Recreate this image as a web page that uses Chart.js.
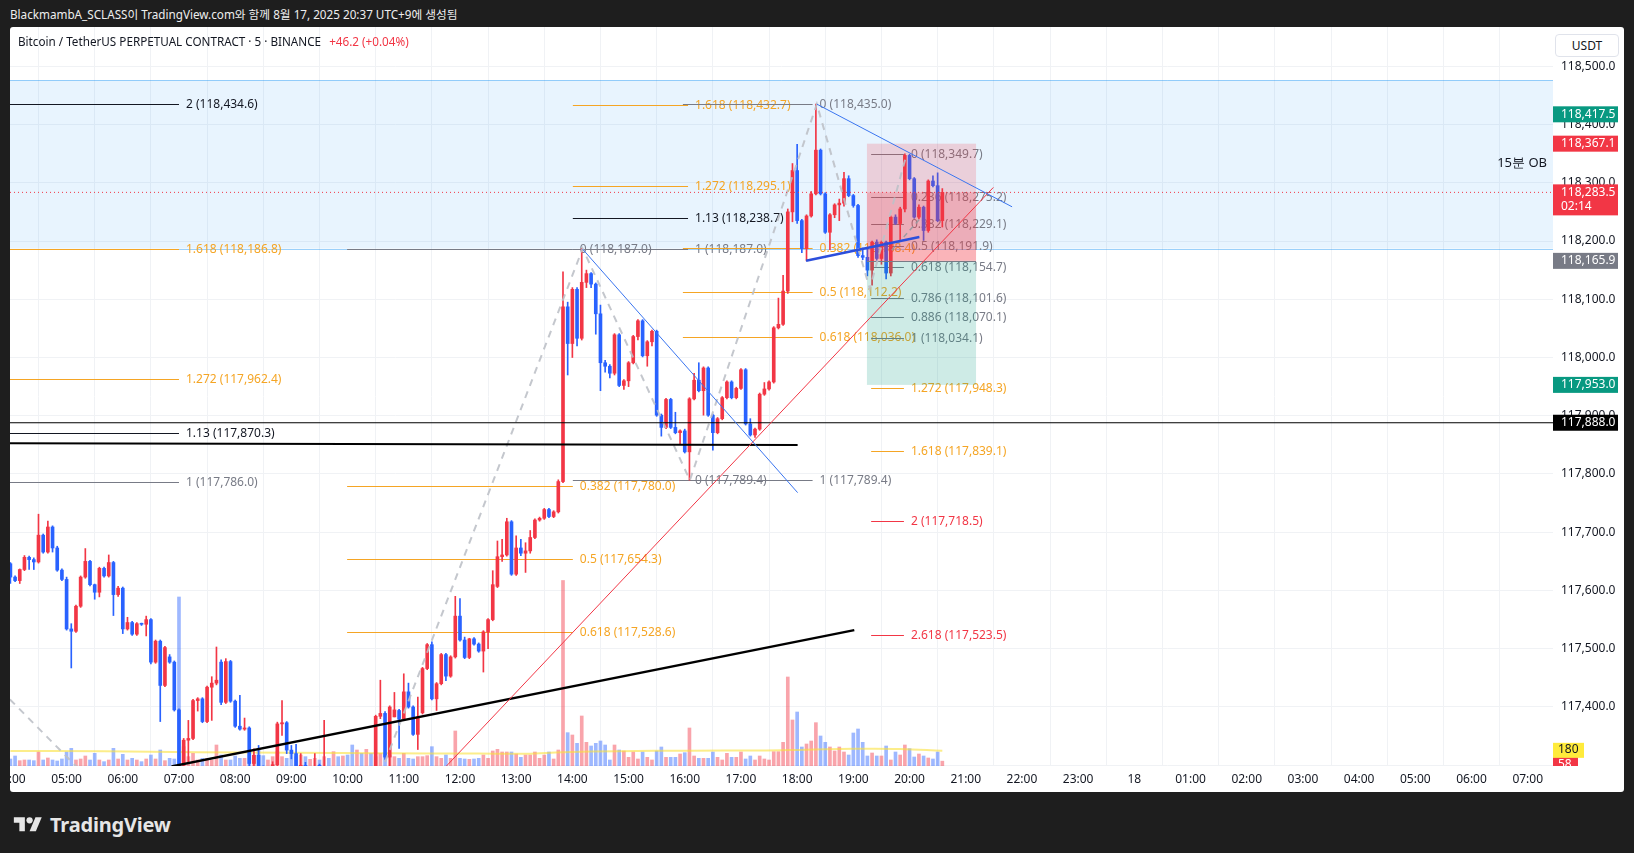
<!DOCTYPE html>
<html><head><meta charset="utf-8">
<script src="https://cdn.jsdelivr.net/npm/chart.js@4.4.1/dist/chart.umd.min.js"></script>
<style>
html,body{margin:0;padding:0;background:#1e1e1e;width:1634px;height:853px;overflow:hidden;font-family:'Noto Sans','Noto Sans CJK KR',sans-serif;}
#title{position:absolute;left:10px;top:5px;color:#eeeeee;font-size:11.7px;line-height:18px;font-family:'Noto Sans','Noto Sans CJK KR',sans-serif;}
#panel{position:absolute;left:10px;top:27px;width:1614px;height:765px;background:#fff;border-radius:3px;overflow:hidden}
#c{position:absolute;left:0;top:0;}
#legend{position:absolute;left:8px;top:6px;font-size:11.7px;color:#131722;white-space:nowrap}
#legend .chg{color:#f23645;margin-left:5px}
#usdt{position:absolute;left:1545px;top:7px;width:62px;height:21px;border:1px solid #e0e3eb;border-radius:4px;background:#fff;font-size:12px;line-height:21px;text-align:center;color:#131722}
#footer{position:absolute;left:12px;top:811px;display:flex;align-items:center;color:#e6e6e6;font-size:20px;font-weight:700;letter-spacing:-0.2px;font-family:'Noto Sans',sans-serif}
#footer svg{margin-right:6px}
</style></head>
<body>
<div id="title">BlackmambA_SCLASS이 TradingView.com와 함께 8월 17, 2025 20:37 UTC+9에 생성됨</div>
<div id="panel">
<canvas id="c" width="1614" height="765"></canvas>
<div id="legend">Bitcoin / TetherUS PERPETUAL CONTRACT · 5 · BINANCE <span class="chg">+46.2 (+0.04%)</span></div>
<div id="usdt">USDT</div>
</div>
<div id="footer"><svg width="32" height="22" viewBox="0 0 36 28"><path fill="#e6e6e6" d="M14 22H7V11H0V4h14v18z"/><circle fill="#e6e6e6" cx="20" cy="8" r="4"/><path fill="#e6e6e6" d="M28 22h-8l7.5-18h8L28 22z"/></svg>TradingView</div>
<script>
// ---------- data ----------
const timeTickIdx = [0,12,24,36,48,60,72,84,96,108,120,132,144,156,168,180,192,204,216,228,240,252,264,276,288,300,312,324];
const timeTickLabels = ['04:00','05:00','06:00','07:00','08:00','09:00','10:00','11:00','12:00','13:00','14:00','15:00','16:00','17:00','18:00','19:00','20:00','21:00','22:00','23:00','18','01:00','02:00','03:00','04:00','05:00','06:00','07:00'];
const priceTicks = [117300,117400,117500,117600,117700,117800,117900,118000,118100,118200,118300,118400,118500];

const opens = [
117646,117623,117617,117636,117657,117653,117649,117695,117666,117709,
117673,117635,117619,117534,117530,117573,117623,117650,117610,117597,
117638,117625,117648,117593,117604,117534,117545,117525,117543,117542,
117550,117477,117513,117437,117486,117477,117395,117300,117343,117346,
117411,117414,117375,117434,117441,117477,117408,117478,117410,117367,
117362,117364,117303,117317,117297,117282,117290,117301,117371,117373,
117326,117320,117297,117300,117282,117286,117300,117288,117290,117270,
117280,117262,117275,117260,117250,117278,117256,117280,117272,117384,
117389,117314,117383,117394,117380,117426,117400,117353,117390,117466,
117507,117414,117440,117490,117453,117486,117556,117515,117485,117517,
117508,117496,117529,117550,117607,117658,117661,117718,117628,117673,
117664,117668,117691,117721,117724,117739,117727,117735,117787,118087,
118024,118117,118033,118129,118144,118126,118075,117991,117985,117973,
118039,117952,117960,117991,118036,118063,118003,118027,118045,117901,
117880,117928,117880,117871,117874,117838,117929,117961,117943,117982,
117901,117871,117895,117931,117958,117931,117947,117979,117886,117867,
117877,117937,117946,117958,118051,118057,118114,118250,118321,118235,
118187,118243,118281,118356,118281,118215,118245,118262,118265,118307,
118278,118261,118175,118172,118150,118198,118170,118198,118145,118241,
118230,118255,118347,118307,118241,118258,118218,118303,118295,118235];
const highs = [
117648,117625,117637,117660,117659,117656,117731,117697,117719,117711,
117676,117637,117623,117543,117575,117625,117672,117652,117611,117640,
117640,117661,117650,117607,117606,117554,117547,117545,117544,117556,
117552,117515,117515,117504,117490,117479,117397,117346,117377,117413,
117416,117416,117436,117452,117503,117481,117483,117480,117412,117420,
117381,117366,117328,117334,117299,117294,117306,117374,117411,117375,
117334,117336,117320,117305,117290,117320,117302,117377,117293,117285,
117290,117280,117288,117292,117285,117290,117288,117292,117386,117446,
117392,117402,117425,117396,117457,117441,117402,117417,117468,117509,
117512,117442,117492,117492,117488,117590,117586,117520,117518,117519,
117510,117531,117552,117634,117685,117688,117724,117720,117694,117688,
117682,117703,117723,117726,117741,117741,117737,117790,118147,118095,
118120,118120,118187,118150,118146,118128,118090,117995,117988,118041,
118041,117962,117993,118038,118065,118065,118029,118047,118047,117903,
117930,117930,117906,117876,117877,117931,117973,117991,117984,117984,
117903,117897,117933,117960,117960,117949,117981,117981,117895,117879,
117939,117957,117960,118053,118102,118141,118255,118333,118366,118237,
118245,118285,118435,118358,118283,118247,118264,118272,118318,118312,
118280,118263,118188,118187,118200,118202,118200,118200,118243,118245,
118258,118349.7,118349,118309,118262,118260,118305,118312,118317,118290];
const lows = [
117612,117615,117612,117634,117636,117636,117647,117664,117664,117666,
117633,117617,117532,117467,117528,117571,117621,117608,117585,117589,
117623,117623,117557,117590,117526,117532,117523,117523,117540,117522,
117474,117475,117375,117435,117475,117393,117285,117290,117305,117344,
117393,117373,117373,117377,117438,117404,117406,117408,117365,117360,
117360,117296,117298,117295,117270,117265,117285,117299,117351,117320,
117311,117290,117285,117275,117270,117280,117275,117280,117260,117255,
117258,117245,117255,117240,117235,117250,117245,117258,117268,117380,
117310,117297,117383,117329,117378,117398,117351,117327,117388,117464,
117412,117394,117438,117445,117451,117484,117513,117483,117483,117506,
117494,117460,117500,117548,117605,117650,117659,117626,117626,117660,
117631,117664,117689,117719,117722,117725,117725,117733,117785,117970,
118000,118020,118030,118120,118120,118040,117943,117975,117965,117970,
117950,117945,117950,117989,118030,118001,117985,118020,117899,117865,
117878,117878,117869,117851,117836,117789.4,117927,117941,117901,117899,
117841,117869,117893,117929,117929,117929,117945,117884,117865,117863,
117875,117935,117944,117956,118049,118055,118110,118233,118230,118180,
118166,118241,118279,118279,118213,118185,118240,118235,118260,118276,
118258,118172,118168,118140,118124,118165,118160,118135,118140,118228,
118200,118250,118305,118239,118238,118201,118215,118293,118233,118224];
const closes = [
117623,117617,117636,117657,117653,117649,117695,117666,117709,117673,
117635,117619,117534,117530,117573,117623,117650,117610,117597,117638,
117625,117648,117593,117604,117534,117545,117525,117543,117542,117550,
117477,117513,117437,117502,117477,117395,117300,117343,117346,117411,
117414,117375,117434,117441,117446,117408,117478,117410,117367,117362,
117364,117303,117317,117297,117282,117290,117301,117371,117373,117326,
117320,117297,117300,117282,117286,117292,117288,117290,117270,117280,
117262,117275,117260,117250,117278,117256,117280,117272,117384,117389,
117314,117400,117395,117379,117426,117400,117353,117383,117466,117507,
117414,117440,117490,117453,117486,117556,117515,117485,117517,117508,
117496,117529,117550,117610,117658,117661,117718,117628,117673,117664,
117668,117691,117721,117724,117739,117727,117735,117787,118087,118024,
118117,118033,118129,118144,118126,118075,117991,117985,117973,118039,
117952,117960,117991,118036,118063,118003,118027,118045,117901,117880,
117928,117880,117871,117874,117838,117929,117961,117943,117982,117901,
117871,117895,117931,117958,117931,117947,117979,117886,117867,117877,
117937,117946,117958,118051,118057,118114,118250,118321,118235,118187,
118243,118281,118356,118281,118215,118245,118262,118265,118307,118278,
118261,118175,118172,118150,118198,118170,118198,118145,118241,118230,
118255,118347,118307,118241,118258,118218,118303,118295,118235,118283.5];
const volumes = [
84,120,64,72,72,64,168,72,96,72, 60,84,168,212,72,84,120,72,152,72,
52,72,212,84,140,72,92,72,52,84, 132,84,192,64,92,84,2028,232,112,152,
72,92,92,72,252,132,72,72,120,92, 92,192,132,192,124,72,112,172,112,92,
152,112,132,112,80,92,72,112,92,172, 112,120,132,252,192,152,200,152,112,152,
152,132,112,92,152,92,84,112,112,124, 232,112,92,132,92,420,92,84,80,84,
92,132,92,180,200,168,168,168,144,104, 132,132,168,92,132,168,84,192,2226,400,
372,272,600,284,240,272,300,252,72,252, 192,180,104,168,84,168,104,72,180,228,
104,104,104,144,160,456,120,92,92,92, 168,104,72,152,104,104,168,84,120,72,
120,84,72,172,172,284,1068,552,648,228, 264,300,520,360,284,228,180,228,168,132,
396,444,284,120,156,120,120,240,72,168, 132,252,208,108,144,120,96,84,168,58];
const volMaIdx = [0,20,40,60,80,100,110,118,130,145,160,170,180,190,199];
const volMaVal = [180,176,165,160,152,150,148,165,178,184,186,196,206,204,182];

// drawings (bar index, price)
const obZone = [118187, 118476];
const fibLLevels = [2,1.618,1.272,1.13,1];
const fibLPrices = [118434.6,118186.8,117962.4,117870.3,117786.0];
const fibALevels = [0,0.382,0.5,0.618];
const fibAPrices = [118187.0,117780.0,117654.3,117528.6];
const fibBLevels = [1.618,1.272,1.13,1,0];
const fibBPrices = [118432.7,118295.1,118238.7,118187.0,117789.4];
const fibCLevels = [0,0.382,0.5,0.618,1];
const fibCPrices = [118435.0,118188.4,118112.2,118036.0,117789.4];
const fibDLevels = [0,0.236,0.382,0.5,0.618,0.786,0.886,1,1.272,1.618,2,2.618];
const fibDPrices = [118349.7,118275.2,118229.1,118191.9,118154.7,118101.6,118070.1,118034.1,117948.3,117839.1,117718.5,117523.5];
const positionPrices = {stop:118367.1, entry:118165.9, target:117953.0, last:118283.5};
const positionSpan = [182.9, 206.2];
const hLinePrice = 117888.0;
const blackTrend = [[34.4,117298],[180.2,117532]];
const blackFlat = [[-0.1,117853],[168.1,117850]];
const redTrend = [[92.8,117296],[209.9,118292]];
const blueDown = [[122.2,118186],[168.1,117768]];
const blueTop = [[172.2,118435],[213.9,118258.7]];
const blueBottom = [[169.9,118166],[194.1,118207]];
const zigA = [[-0.1,117413],[36,117120]];
const zigB = [[78,117264],[122.2,118187],[145.1,117789.4],[172.2,118435],[183.5,118118],[191.4,118349.7]];
const zigC = [[188.2,118184],[194.2,118238]];
const axisMarkPrices = [118417.5,118367.1,118283.5,118165.9,117953.0,117888.0];
const axisMarkTexts = ['118,417.5','118,367.1','118,283.5','118,165.9','117,953.0','117,888.0'];
const countdownText = '02:14';
const volLabelTexts = ['180','58'];

// ---------- styles ----------
const xMin = -0.085, xMax = 329.4, yMin = 117298.7, yMax = 118567.4, volMax = 8868;
const COL = {orange:'#f5a524', gray:'#787b86', black:'#131722', red:'#f23645', green:'#089981'};
const UP = '#f23645', DN = '#2962ff';
const FONT = '"Noto Sans","Liberation Sans",sans-serif';
const fibDefs = [
  {x0:xMin, x1:36.0, levels:fibLLevels, prices:fibLPrices, col:{2:'black',1.618:'orange',1.272:'orange',1.13:'black',1:'gray'}},
  {x0:71.9, x1:120.1, levels:fibALevels, prices:fibAPrices, col:{0:'gray',0.382:'orange',0.5:'orange',0.618:'orange'}},
  {x0:120.1, x1:144.7, levels:fibBLevels, prices:fibBPrices, col:{1.618:'orange',1.272:'orange',1.13:'black',1:'gray',0:'gray'}},
  {x0:143.6, x1:171.3, levels:fibCLevels, prices:fibCPrices, col:{0:'gray',0.382:'orange',0.5:'orange',0.618:'orange',1:'gray'}},
  {x0:183.8, x1:190.8, levels:fibDLevels, prices:fibDPrices, col:{1.272:'orange',1.618:'orange',2:'red',2.618:'red'}}
];
const fmt = v => v.toLocaleString('en-US',{minimumFractionDigits:1,maximumFractionDigits:1});
const isUp = i => closes[i] >= opens[i];
const pts = arr => arr.map(p => ({x:p[0], y:p[1]}));

const overlay = {
  id:'overlay',
  beforeDatasetsDraw(chart){
    const {ctx, chartArea:a, scales:{x,y}} = chart;
    ctx.save();
    ctx.beginPath(); ctx.rect(a.left,a.top,a.width,a.height); ctx.clip();
    const zt = y.getPixelForValue(obZone[1]), zb = y.getPixelForValue(obZone[0]);
    ctx.fillStyle = 'rgba(33,150,243,0.10)';
    ctx.fillRect(a.left, zt, a.width, zb-zt);
    ctx.strokeStyle = 'rgba(33,150,243,0.45)'; ctx.lineWidth = 1;
    [zt,zb].forEach(v=>{ctx.beginPath();ctx.moveTo(a.left,Math.round(v)+0.5);ctx.lineTo(a.right,Math.round(v)+0.5);ctx.stroke();});
    ctx.font = '13px '+FONT; ctx.fillStyle = '#131722'; ctx.textAlign='right'; ctx.textBaseline='middle';
    ctx.fillText('15분 OB', a.right-6, y.getPixelForValue(118334));
    ctx.font = '12px '+FONT; ctx.textAlign='left';
    fibDefs.forEach(f=>{
      const px0 = x.getPixelForValue(f.x0), px1 = x.getPixelForValue(f.x1);
      f.levels.forEach((lv,k)=>{
        const c = COL[f.col[lv] || 'gray'];
        const py = Math.round(y.getPixelForValue(f.prices[k]))+0.5;
        ctx.strokeStyle = c; ctx.lineWidth = 1;
        ctx.beginPath(); ctx.moveTo(px0,py); ctx.lineTo(px1,py); ctx.stroke();
        ctx.fillStyle = c;
        ctx.fillText(lv+' ('+fmt(f.prices[k])+')', px1+7, py);
      });
    });
    ctx.restore();
  },
  afterDatasetDraw(chart,args){
    if(chart.data.datasets[args.index].id !== 'bodies') return;
    const {ctx, chartArea:a, scales:{x,y}} = chart;
    ctx.save();
    ctx.beginPath(); ctx.rect(a.left,a.top,a.width,a.height); ctx.clip();
    const x0 = x.getPixelForValue(positionSpan[0]), x1 = x.getPixelForValue(positionSpan[1]);
    const ys = y.getPixelForValue(positionPrices.stop), ye = y.getPixelForValue(positionPrices.entry);
    const yt = y.getPixelForValue(positionPrices.target), yl = y.getPixelForValue(positionPrices.last);
    ctx.fillStyle = 'rgba(242,54,69,0.20)'; ctx.fillRect(x0, ys, x1-x0, ye-ys);
    ctx.fillStyle = 'rgba(242,54,69,0.22)'; ctx.fillRect(x0, yl, x1-x0, ye-yl);
    ctx.fillStyle = 'rgba(8,153,129,0.20)'; ctx.fillRect(x0, ye, x1-x0, yt-ye);
    ctx.strokeStyle = '#787b86'; ctx.lineWidth=1;
    ctx.beginPath(); ctx.moveTo(x0,Math.round(ye)+0.5); ctx.lineTo(x1,Math.round(ye)+0.5); ctx.stroke();
    ctx.restore();
  },
  afterDraw(chart){
    const {ctx, chartArea:a, scales:{y, yv}} = chart;
    ctx.save();
    ctx.font = '12px '+FONT; ctx.textBaseline='middle'; ctx.textAlign='left';
    const bx = a.right, bw = 65, bh = 16;
    const kinds = ['#089981','#f23645','#f23645','#787b86','#089981','#000000'];
    axisMarkPrices.forEach((p,k)=>{
      const py = y.getPixelForValue(p);
      ctx.fillStyle = kinds[k];
      if(k===2){
        ctx.fillRect(bx, py-8, bw, 31);
        ctx.fillStyle='#fff'; ctx.fillText(axisMarkTexts[k], bx+8, py);
        ctx.fillText(countdownText, bx+8, py+14);
      } else {
        ctx.fillRect(bx, py-bh/2, bw, bh);
        ctx.fillStyle='#fff'; ctx.fillText(axisMarkTexts[k], bx+8, py);
      }
    });
    ctx.beginPath(); ctx.rect(a.right, a.top, 80, a.bottom-a.top); ctx.clip();
    const vy2 = yv.getPixelForValue(volumes[volumes.length-1]) + 3;
    ctx.fillStyle = '#f23645'; ctx.fillRect(bx, vy2-7, 25, 15);
    ctx.fillStyle = '#fff'; ctx.fillText(volLabelTexts[1], bx+5, vy2);
    const vy1 = yv.getPixelForValue(volMaVal[volMaVal.length-1]) - 1;
    ctx.fillStyle = '#ffeb3b'; ctx.fillRect(bx, vy1-7, 31, 15);
    ctx.fillStyle = '#131722'; ctx.fillText(volLabelTexts[0], bx+5, vy1);
    ctx.restore();
  }
};

const idx = opens.map((_,i)=>i);
const line = (id, data, color, width, dash, order) => ({type:'line', id, data:pts(data), borderColor:color, borderWidth:width, borderDash:dash||[], pointRadius:0, fill:false, yAxisID:'y', order, tension:0});

const datasets = [
  {type:'bar', id:'vol', yAxisID:'yv', data: idx.map(i=>({x:i, y:volumes[i]})),
   backgroundColor: idx.map(i=> isUp(i) ? 'rgba(242,54,69,0.45)' : 'rgba(41,98,255,0.45)'),
   barThickness:3, grouped:false, order:100},
  {type:'line', id:'vma', yAxisID:'yv', data: volMaIdx.map((v,k)=>({x:v, y:volMaVal[k]})),
   borderColor:'rgba(250,225,60,0.6)', borderWidth:2, pointRadius:0, tension:0.4, order:99},
  {type:'bar', id:'wicks', yAxisID:'y', data: idx.map(i=>({x:i, y:[lows[i], highs[i]]})),
   backgroundColor: idx.map(i=> isUp(i)?UP:DN), barThickness:1, grouped:false, order:98},
  {type:'bar', id:'bodies', yAxisID:'y', data: idx.map(i=>({x:i, y:[opens[i], closes[i]]})),
   backgroundColor: idx.map(i=> isUp(i)?UP:DN), barThickness:3, minBarLength:1, grouped:false, order:97},
  line('zigA', zigA, 'rgba(190,193,200,0.9)', 2, [7,6], 90),
  line('zigB', zigB, 'rgba(190,193,200,0.9)', 2, [7,6], 89),
  line('zigC', zigC, 'rgba(150,153,160,0.9)', 1.5, [5,4], 88),
  line('hline', [[xMin,hLinePrice],[xMax,hLinePrice]], '#000000', 1.2, [], 80),
  line('blackFlat', blackFlat, '#000000', 2, [], 79),
  line('blackTrend', blackTrend, '#000000', 2.5, [], 78),
  line('redTrend', redTrend, '#f23645', 1, [], 77),
  line('blueDown', blueDown, '#3a75f0', 1, [], 76),
  line('blueTop', blueTop, '#3a75f0', 1, [], 75),
  line('blueBottom', blueBottom, '#2c4fdc', 2.5, [], 74),
  line('priceLine', [[xMin,positionPrices.last],[xMax,positionPrices.last]], '#f23645', 1, [1,3], 70)
];

new Chart(document.getElementById('c'), {
  type:'bar',
  data:{datasets},
  options:{
    responsive:false, animation:false, devicePixelRatio:1,
    layout:{padding:0},
    plugins:{legend:{display:false}, tooltip:{enabled:false}},
    scales:{
      x:{type:'linear', min:xMin, max:xMax, offset:false, position:'bottom',
        grid:{color:'#f0f2f5', drawTicks:false}, border:{display:false},
        ticks:{autoSkip:false, maxRotation:0, padding:6, color:'#131722', font:{family:FONT, size:12},
          callback:(v)=>{const k=timeTickIdx.indexOf(v); return k>=0?timeTickLabels[k]:'';}},
        afterBuildTicks:s=>{s.ticks = timeTickIdx.map(v=>({value:v}));},
        afterFit:s=>{s.height=26; s.paddingLeft=0; s.paddingRight=0;}},
      y:{type:'linear', position:'right', min:yMin, max:yMax,
        grid:{color:'#f0f2f5', drawTicks:false}, border:{display:false},
        ticks:{padding:8, color:'#131722', font:{family:FONT, size:12},
          callback:(v)=> v<117350 ? '' : fmt(v)},
        afterBuildTicks:s=>{s.ticks = priceTicks.map(v=>({value:v}));},
        afterFit:s=>{s.width=71; s.paddingTop=0; s.paddingBottom=0;}},
      yv:{type:'linear', display:false, min:0, max:volMax}
    }
  },
  plugins:[overlay]
});
</script>
</body></html>
